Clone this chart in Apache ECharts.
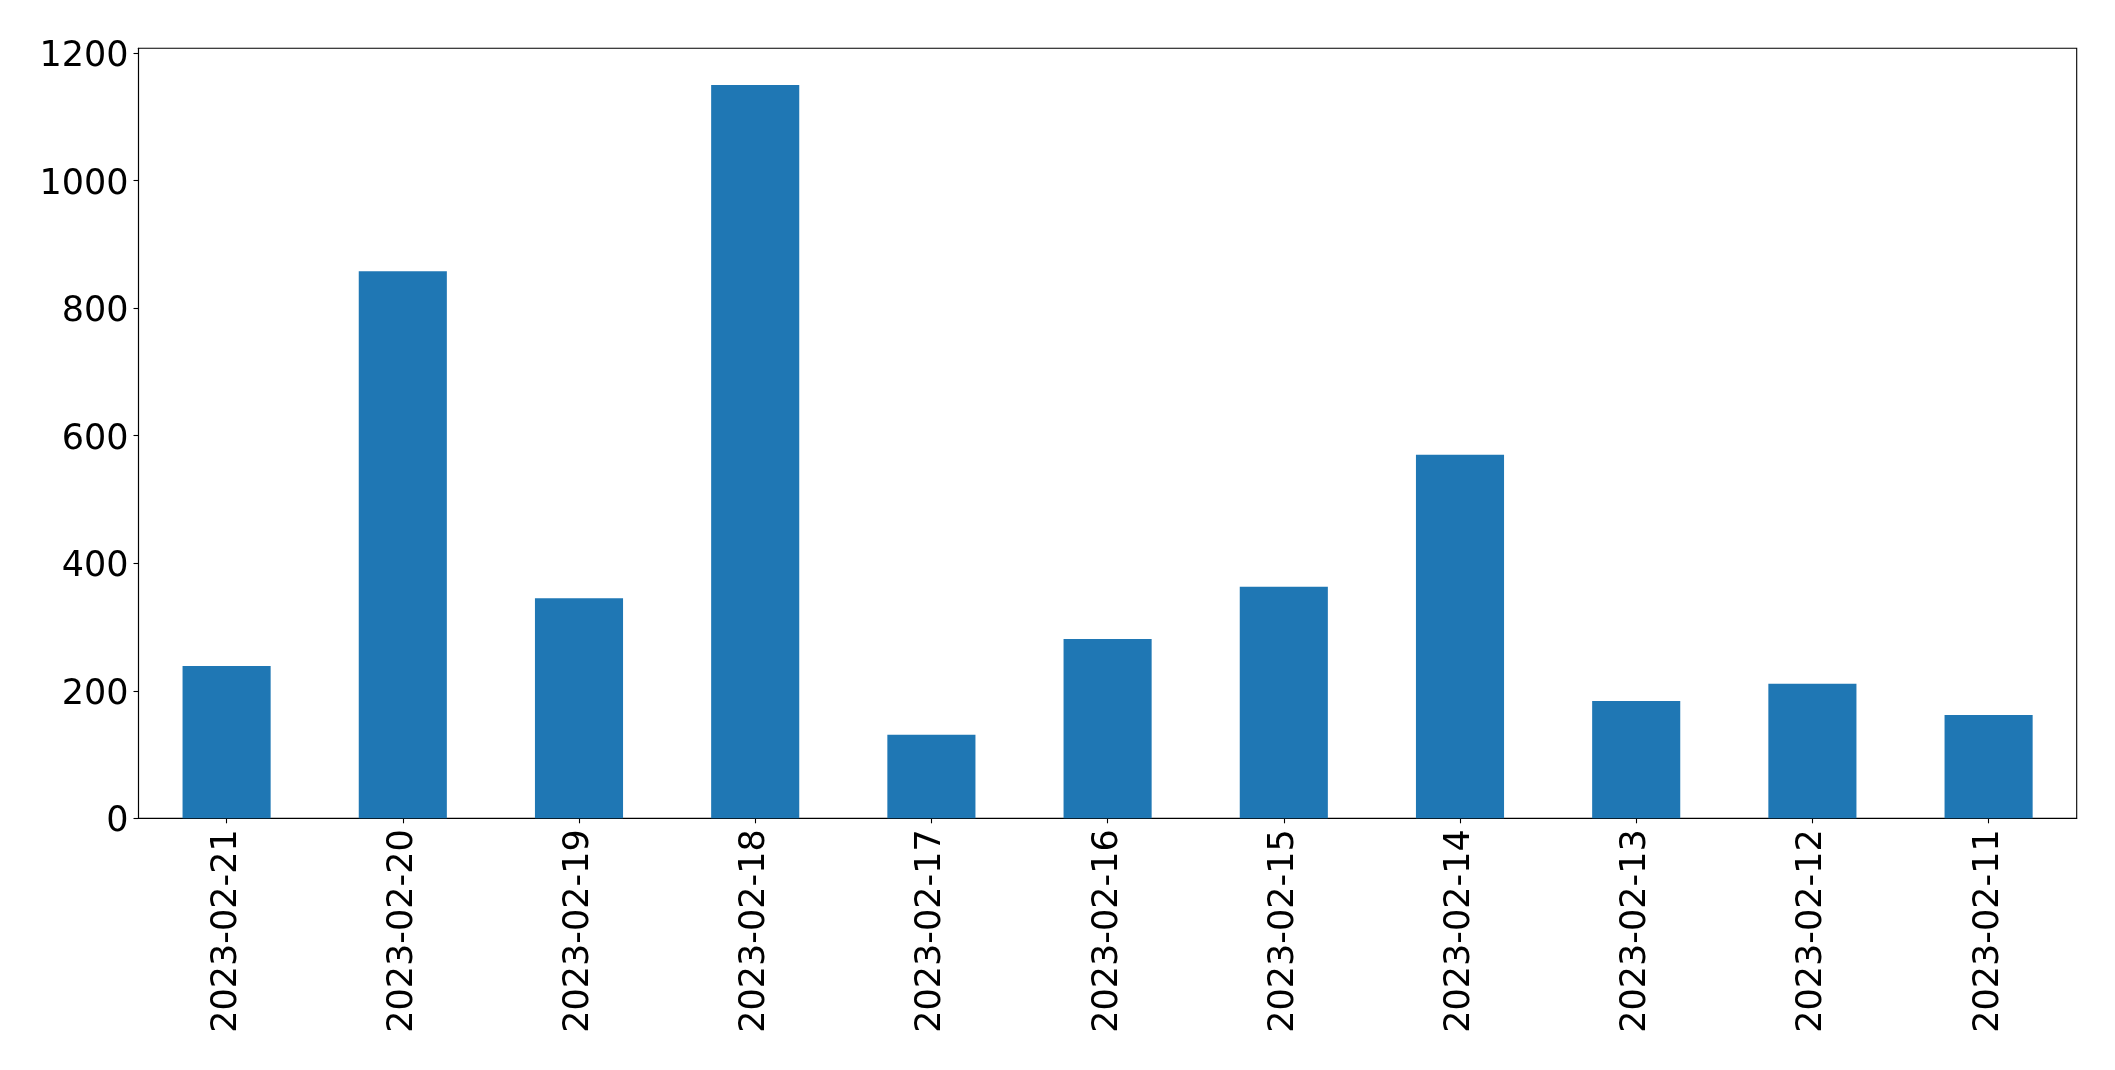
<!DOCTYPE html>
<html>
<head>
<meta charset="utf-8">
<script src="https://cdn.jsdelivr.net/npm/echarts@6/dist/echarts.min.js"></script>
<style>
html, body { margin: 0; padding: 0; background: #fff; }
#chart { width: 2115px; height: 1070px; }
</style>
</head>
<body>
<div id="chart"></div>
<script>
const categories = ["2023-02-21", "2023-02-20", "2023-02-19", "2023-02-18", "2023-02-17", "2023-02-16", "2023-02-15", "2023-02-14", "2023-02-13", "2023-02-12", "2023-02-11"];
const values = [239, 858, 345, 1150, 131, 281, 363, 570, 184, 211, 162];
const yTicks = [0, 200, 400, 600, 800, 1000, 1200];
const yMax = 1207.5;

const chart = echarts.init(document.getElementById('chart'), null, { renderer: 'canvas' });
const font = '"DejaVu Sans", sans-serif';
chart.setOption({
  animation: false,
  backgroundColor: '#ffffff',
  grid: {
    left: 138.5, right: 38.3, top: 48.3, bottom: 251.7,
    show: true, borderColor: '#000000', borderWidth: 1.1, backgroundColor: 'transparent'
  },
  xAxis: {
    type: 'category',
    data: categories,
    boundaryGap: true,
    axisLine: { show: true, lineStyle: { color: '#000000', width: 1.1 } },
    axisTick: { show: true, alignWithLabel: true, length: 5, lineStyle: { color: '#000000', width: 1.1 } },
    axisLabel: { rotate: 90, margin: 11, fontSize: 35, color: '#000000', fontFamily: font, interval: 0 },
    splitLine: { show: false }
  },
  yAxis: {
    type: 'value',
    min: 0,
    max: yMax,
    interval: 200,
    axisLine: { show: true, lineStyle: { color: '#000000', width: 1.1 } },
    axisTick: { show: true, length: 5, customValues: yTicks, lineStyle: { color: '#000000', width: 1.1 } },
    axisLabel: {
      margin: 10, fontSize: 35, color: '#000000', fontFamily: font, customValues: yTicks,
      formatter: function (v) { return '{a|' + String(v) + '}'; },
      rich: { a: { fontSize: 35, color: '#000000', fontFamily: font, padding: [8, 0, 0, 0] } }
    },
    splitLine: { show: false }
  },
  series: [{
    type: 'bar',
    data: values,
    barWidth: '50%',
    itemStyle: { color: '#1f77b4' }
  }]
});
</script>
</body>
</html>
